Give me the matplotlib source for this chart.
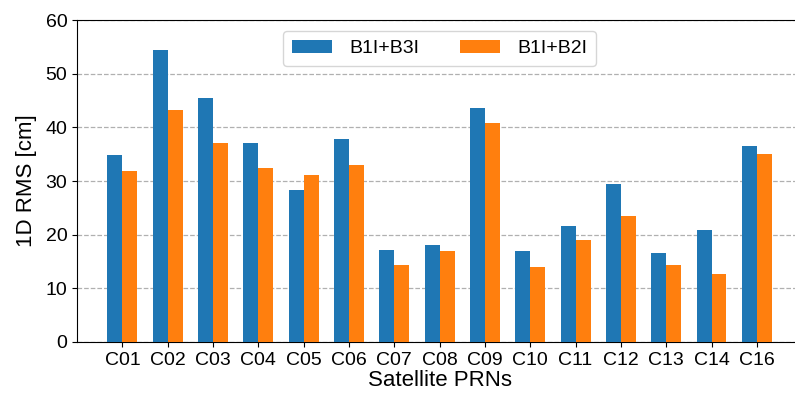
import matplotlib.pyplot as plt
import numpy as np

plt.rcParams['font.family'] = ['Liberation Sans', 'DejaVu Sans']

# Data
prns = ["C01", "C02", "C03", "C04", "C05", "C06", "C07", "C08",
        "C09", "C10", "C11", "C12", "C13", "C14", "C16"]
b1i_b3i = [34.8, 54.5, 45.4, 37.1, 28.3, 37.9, 17.1, 18.0,
           43.6, 17.0, 21.6, 29.5, 16.5, 20.9, 36.6]
b1i_b2i = [31.8, 43.2, 37.1, 32.5, 31.1, 33.0, 14.3, 17.0,
           40.9, 13.9, 19.1, 23.5, 14.3, 12.6, 35.0]

x = np.arange(len(prns))
width = 0.33

fig = plt.figure(figsize=(7.95, 3.94), dpi=100)
ax = fig.add_axes([0.097, 0.132, 0.912, 0.817])

ax.bar(x - width / 2, b1i_b3i, width, color="#1f77b4", label="B1I+B3I", zorder=3)
ax.bar(x + width / 2, b1i_b2i, width, color="#ff7f0e", label="B1I+B2I", zorder=3)

ax.set_xlim(-1, 15)
ax.set_ylim(0, 60)
ax.set_xticks(x)
ax.set_xticklabels(prns)
ax.set_yticks(range(0, 61, 10))
ax.tick_params(labelsize=14)
ax.spines["right"].set_visible(False)
ax.set_xlabel("Satellite PRNs", fontsize=16, labelpad=1)
ax.set_ylabel("1D RMS [cm]", fontsize=16, labelpad=6)
ax.grid(axis="y", linestyle="--", color="#b0b0b0", linewidth=0.9, zorder=0)

ax.legend(loc="upper center", bbox_to_anchor=(0.5, 0.997), ncol=2, fontsize=14,
          handlelength=2.05, handleheight=0.7, handletextpad=0.88,
          columnspacing=2.1, borderpad=0.45)

fig.savefig("out.png", dpi=100)
